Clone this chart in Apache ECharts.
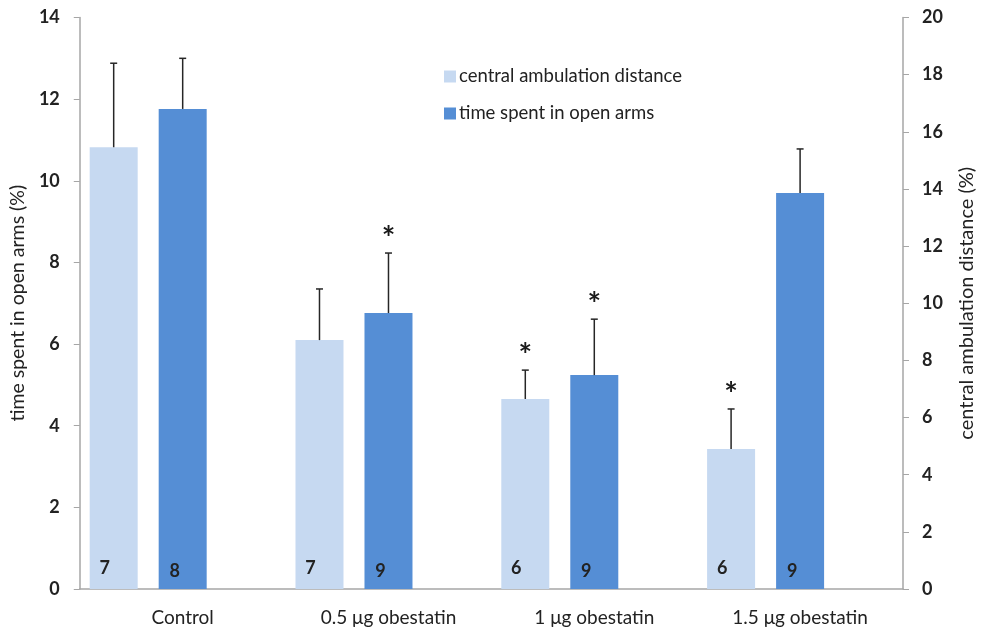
<!DOCTYPE html>
<html>
<head>
<meta charset="utf-8">
<script src="https://cdn.jsdelivr.net/npm/echarts@6/dist/echarts.min.js"></script>
<style>html,body{margin:0;padding:0;background:#fff}#c{width:985px;height:633px}</style>
</head>
<body>
<div id="c"></div>
<script>
// ---- data ----
const categories = ['Control', '0.5 μg obestatin', '1 μg obestatin', '1.5 μg obestatin'];
const centralAmbulation = [15.46, 8.71, 6.65, 4.90];      // right axis (%)
const centralAmbulationErr = [2.94, 1.79, 1.01, 1.40];
const timeOpenArms = [11.76, 6.76, 5.24, 9.70];           // left axis (%)
const timeOpenArmsErr = [1.24, 1.47, 1.37, 1.08];
const nCentral = [7, 7, 6, 6];
const nOpenArms = [8, 9, 9, 9];
const starCentral = [false, false, true, true];
const starOpenArms = [false, true, true, false];
const leftTicks = {min: 0, max: 14, interval: 2};
const rightTicks = {min: 0, max: 20, interval: 2};

const LIGHT = '#c6d9f1', DARK = '#558ed5';
const FONT = 'Lato';
const BAR_W = 48, BAR_GAP = 21;

function errRender(offsetPx, stars) {
  return function (params, api) {
    const i = api.value(0);
    const top = api.coord([i, api.value(1)]);
    const end = api.coord([i, api.value(1) + api.value(2)]);
    const x = top[0] + offsetPx;
    const children = [
      {type: 'line', shape: {x1: x, y1: top[1], x2: x, y2: end[1]}, style: {stroke: '#262626', lineWidth: 1.5}},
      {type: 'line', shape: {x1: x - 3.5, y1: end[1], x2: x + 3.5, y2: end[1]}, style: {stroke: '#262626', lineWidth: 1.5}}
    ];
    if (stars[i]) {
      children.push({type: 'text', x: x, y: end[1] + 3,
        style: {text: '*', fill: '#1a1a1a', font: 'bold 32px ' + FONT, align: 'center', verticalAlign: 'bottom'}});
    }
    return {type: 'group', children: children};
  };
}

const chart = echarts.init(document.getElementById('c'), null, {renderer: 'canvas'});
chart.setOption({
  animation: false,
  backgroundColor: '#fff',
  textStyle: {fontFamily: FONT},
  grid: {left: 76, right: 72, top: 17.5, bottom: 44, containLabel: false},
  legend: {
    data: ['central ambulation distance', 'time spent in open arms'],
    orient: 'vertical', left: 439, top: 62,
    itemWidth: 12, itemHeight: 12, itemGap: 18,
    icon: 'rect',
    textStyle: {fontSize: 18.5, color: '#222', fontFamily: FONT, padding: [0, 0, 0, -2]}
  },
  xAxis: {
    type: 'category', data: categories,
    axisLine: {lineStyle: {color: '#a6a6a6', width: 1.5}},
    axisTick: {show: false},
    axisLabel: {fontSize: 19, color: '#222', margin: 19, fontFamily: FONT}
  },
  yAxis: [
    {
      type: 'value', min: leftTicks.min, max: leftTicks.max, interval: leftTicks.interval,
      name: 'time spent in open arms (%)', nameLocation: 'middle', nameRotate: 90, nameGap: 49,
      nameTextStyle: {fontSize: 19.5, color: '#222', fontFamily: FONT},
      axisLine: {show: true, lineStyle: {color: '#a6a6a6', width: 1.5}},
      axisTick: {show: true, length: 6, lineStyle: {color: '#a6a6a6'}},
      axisLabel: {fontSize: 18, fontWeight: 'bold', color: '#222', margin: 20, fontFamily: FONT},
      splitLine: {show: false}
    },
    {
      type: 'value', position: 'right', min: rightTicks.min, max: rightTicks.max, interval: rightTicks.interval,
      name: 'central ambulation distance (%)', nameLocation: 'middle', nameRotate: 90, nameGap: 54,
      nameTextStyle: {fontSize: 20, color: '#222', fontFamily: FONT},
      axisLine: {show: true, lineStyle: {color: '#a6a6a6', width: 1.5}},
      axisTick: {show: true, length: 6, lineStyle: {color: '#a6a6a6'}},
      axisLabel: {fontSize: 18, fontWeight: 'bold', color: '#222', margin: 19, fontFamily: FONT},
      splitLine: {show: false}
    }
  ],
  series: [
    {
      name: 'central ambulation distance', type: 'bar', yAxisIndex: 1,
      data: centralAmbulation, barWidth: BAR_W, barGap: (BAR_GAP / BAR_W * 100) + '%',
      itemStyle: {color: LIGHT},
      label: {show: true, position: 'insideBottom', distance: 12, offset: [-9, 0],
        formatter: p => String(nCentral[p.dataIndex]), fontSize: 18, fontWeight: 'bold', color: '#222', fontFamily: FONT}
    },
    {
      name: 'time spent in open arms', type: 'bar', yAxisIndex: 0,
      data: timeOpenArms, barWidth: BAR_W,
      itemStyle: {color: DARK},
      label: {show: true, position: 'insideBottom', distance: 9, offset: [-8, 0],
        formatter: p => String(nOpenArms[p.dataIndex]), fontSize: 18, fontWeight: 'bold', color: '#222', fontFamily: FONT}
    },
    {
      name: 'spacer', type: 'bar', yAxisIndex: 0,
      data: categories.map(() => '-'), barWidth: BAR_W,
      itemStyle: {color: 'transparent'}, silent: true
    },
    {
      type: 'custom', yAxisIndex: 1, z: 5,
      renderItem: errRender(-(BAR_W + BAR_GAP), starCentral),
      data: centralAmbulation.map((v, i) => [i, v, centralAmbulationErr[i]])
    },
    {
      type: 'custom', yAxisIndex: 0, z: 5,
      renderItem: errRender(0, starOpenArms),
      data: timeOpenArms.map((v, i) => [i, v, timeOpenArmsErr[i]])
    }
  ]
});
</script>
</body>
</html>
